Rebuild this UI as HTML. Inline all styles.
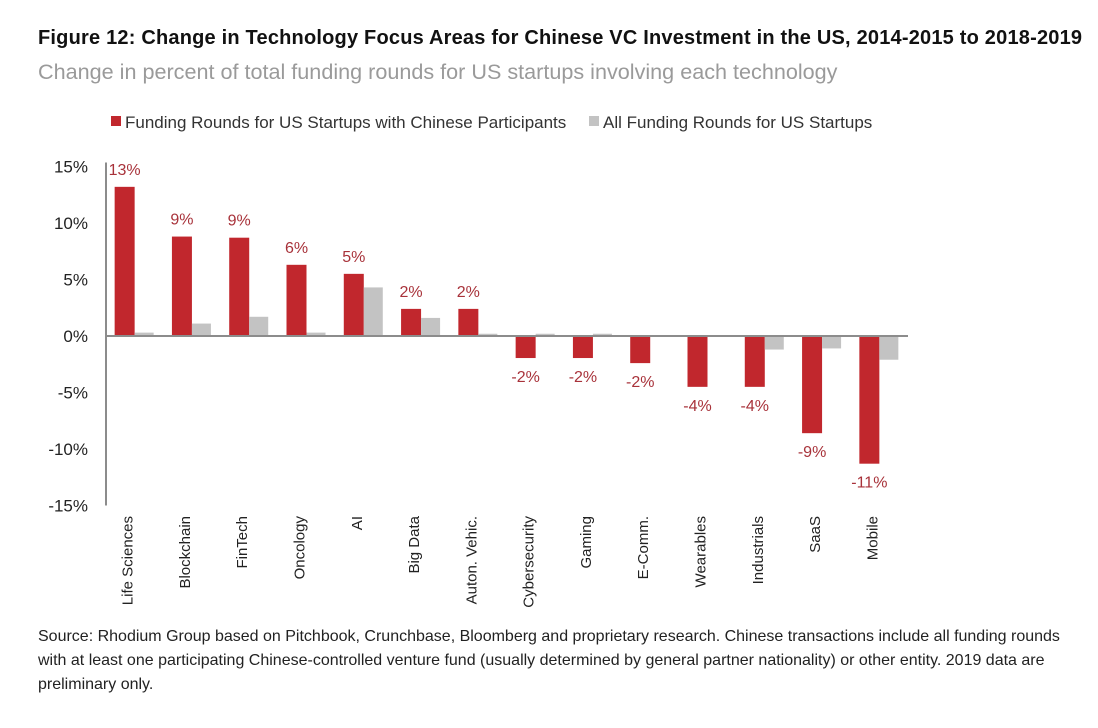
<!DOCTYPE html>
<html><head><meta charset="utf-8">
<style>
body{margin:0;background:#fff;width:1098px;height:728px;overflow:hidden;font-family:"Liberation Sans",sans-serif;}
.t{position:absolute;white-space:nowrap}
</style></head><body>
<div class="t" style="left:38px;top:27px;font-size:20px;font-weight:bold;color:#111;letter-spacing:0.2px">Figure 12: Change in Technology Focus Areas for Chinese VC Investment in the US, 2014-2015 to 2018-2019</div>
<div class="t" style="left:38px;top:59px;font-size:21.6px;color:#9a9a9a">Change in percent of total funding rounds for US startups involving each technology</div>
<svg id="chart" width="1098" height="620" style="position:absolute;left:0;top:0" font-family="Liberation Sans, sans-serif"></svg>
<div class="t" style="left:38px;top:625px;font-size:16px;line-height:24px;color:#222">Source: Rhodium Group based on Pitchbook, Crunchbase, Bloomberg and proprietary research. Chinese transactions include all funding rounds<br>with at least one participating Chinese-controlled venture fund (usually determined by general partner nationality) or other entity. 2019 data are<br>preliminary only.</div>
<script>
const categories=["Life Sciences","Blockchain","FinTech","Oncology","AI","Big Data","Auton. Vehic.","Cybersecurity","Gaming","E-Comm.","Wearables","Industrials","SaaS","Mobile"];
const chineseValues=[13.2,8.8,8.7,6.3,5.5,2.4,2.4,-1.95,-1.95,-2.4,-4.5,-4.5,-8.6,-11.3];
const allValues=[0.3,1.1,1.7,0.3,4.3,1.6,0.2,0.2,0.2,0.05,0.05,-1.2,-1.1,-2.1];
const valueLabels=["13%","9%","9%","6%","5%","2%","2%","-2%","-2%","-2%","-4%","-4%","-9%","-11%"];
const yTicks=[15,10,5,0,-5,-10,-15];
const yTickLabels=["15%","10%","5%","0%","-5%","-10%","-15%"];
const legendLabels=["Funding Rounds for US Startups with Chinese Participants","All Funding Rounds for US Startups"];

const svg=document.getElementById('chart');const NS='http://www.w3.org/2000/svg';
const X0=106,X1=908,Y0=336,PER=11.3;
const step=(X1-X0)/categories.length;
const y=v=>Y0-v*PER;
const xc=i=>X0+step*(i+0.5);
function mk(tag,a){const e=document.createElementNS(NS,tag);for(const k in a)e.setAttribute(k,a[k]);svg.appendChild(e);return e;}
let ax=mk('line',{x1:X0,x2:X0,y1:y(15)-4,y2:y(-15),stroke:'#8c8c8c','stroke-width':2});


yTicks.forEach((t,i)=>{const e=mk('text',{x:88,y:y(t)+6,'text-anchor':'end','font-size':17,fill:'#222'});e.textContent=yTickLabels[i];

});
categories.forEach((c,i)=>{
 const cx=xc(i);
 const v=chineseValues[i];
 const r=mk('rect',{x:cx-20,y:Math.min(y(v),Y0),width:20,height:Math.abs(y(v)-Y0),fill:'#c1272d'});
 
 
 const g=allValues[i];
 const r2=mk('rect',{x:cx,y:Math.min(y(g),Y0),width:19,height:Math.max(Math.abs(y(g)-Y0),1),fill:'#c3c3c3'});
 
 
 let ly=v>=0?Math.max(y(v)-12,y(15)+6):y(v)+24;
 const t=mk('text',{x:cx-10,y:ly,'text-anchor':'middle','font-size':16,fill:'#a8323a'});t.textContent=valueLabels[i];
 
 
 const cl=mk('text',{x:0,y:0,'text-anchor':'end','font-size':15,fill:'#222',transform:`translate(${cx-2},516) rotate(-90)`});cl.textContent=c;
 
 
});
let zl=mk('line',{x1:X0,x2:X1,y1:Y0,y2:Y0,stroke:'#8c8c8c','stroke-width':2});


const lx=[111,589],cols=['#c1272d','#c3c3c3'];
legendLabels.forEach((l,i)=>{
 const s=mk('rect',{x:lx[i],y:116,width:10,height:10,fill:cols[i]});
 
 
 const t=mk('text',{x:lx[i]+14,y:128,'font-size':17,fill:'#333'});t.textContent=l;
 
 
});
</script>
</body></html>
